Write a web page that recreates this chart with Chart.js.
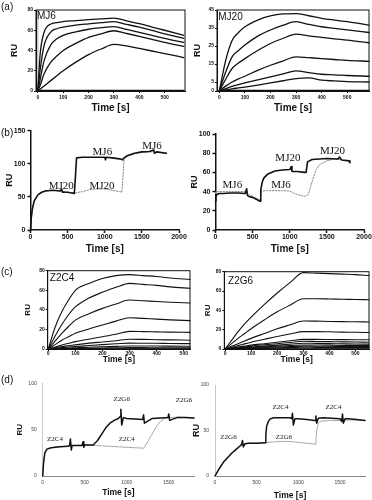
<!DOCTYPE html>
<html>
<head>
<meta charset="utf-8">
<script src="https://cdn.jsdelivr.net/npm/chart.js@4.4.1/dist/chart.umd.min.js"></script>
<style>
  html, body { margin: 0; padding: 0; background: #fff; }
  #fig { position: relative; width: 372px; height: 500px; overflow: hidden; font-family: Arial, "Liberation Sans", sans-serif; }
  #fig canvas { position: absolute; }
  .tag { position: absolute; left: 1px; font-size: 10px; line-height: 10px; color: #111; }
</style>
</head>
<body>
<div id="fig">
  <canvas id="a1"></canvas><canvas id="a2"></canvas>
  <canvas id="b1"></canvas><canvas id="b2"></canvas>
  <canvas id="c1"></canvas><canvas id="c2"></canvas>
  <canvas id="d1"></canvas><canvas id="d2"></canvas>
  <div class="tag" style="top:2px">(a)</div>
  <div class="tag" style="top:128px">(b)</div>
  <div class="tag" style="top:267px">(c)</div>
  <div class="tag" style="top:375px">(d)</div>
</div>
<script>
// ---- (a) MJ6 ----
const timeA1 = [0, 10, 25, 50, 75, 100, 150, 200, 250, 300, 350, 400, 450, 500, 575];
const mj6Curves = [
  [0, 38, 58, 66, 67.5, 68.5, 69.5, 70.5, 71.3, 72, 69.3, 66.5, 63.2, 60, 55],
  [0, 22, 45, 58, 61.5, 63, 65, 66.3, 67.5, 68.5, 65.8, 63, 59.8, 56.5, 52],
  [0, 12, 30, 45, 51.5, 55, 58.5, 61, 62.5, 63.5, 60.8, 58, 55, 52, 48],
  [0, 6, 17, 28, 34.5, 40, 47, 53, 56.5, 59.5, 56.8, 54, 51, 48, 44],
  [0, 2, 5, 10, 15, 20, 28.5, 36, 41.5, 46, 44.5, 42, 39.5, 37, 33],
  [0.5, 0.5, 0.5, 0.5, 0.5, 0.5, 0.5, 0.5, 0.5, 0.5, 0.5, 0.5, 0.5, 0.5, 0.5]
];
const markA1T = [0, 0];
const markA1V = [0, 80];

// ---- (a) MJ20 ----
const timeA2 = [0, 25, 50, 75, 100, 150, 200, 250, 300, 350, 400, 450, 500, 585];
const mj20Curves = [
  [0, 17, 28, 32.5, 35.7, 39.4, 41.7, 42.8, 43, 41.8, 40.4, 39.4, 38.5, 36.6],
  [0, 10.5, 19, 22.5, 25.5, 30.5, 33.9, 36.6, 38.5, 37, 35.7, 34.8, 33.9, 32.5],
  [0, 6.5, 12.5, 15.5, 18, 22.5, 26.4, 29.3, 31.6, 30.6, 29.8, 29, 28.3, 26.8],
  [0, 2.7, 5, 6.7, 8.2, 11.5, 14.3, 16.8, 19, 18.5, 18, 17.5, 17, 16.5],
  [0, 1.3, 2.6, 3.6, 4.5, 6.2, 7.8, 9.5, 11.2, 10.2, 9.3, 9, 8.6, 8.2],
  [0, 0.6, 1.2, 1.7, 2.2, 3.3, 4.5, 5.7, 6.9, 7.3, 6, 5.6, 5.2, 5],
  [0.3, 0.3, 0.3, 0.3, 0.3, 0.3, 0.3, 0.3, 0.3, 0.3, 0.3, 0.3, 0.3, 0.3]
];

// ---- (b) left: MJ20 then MJ6 ----
const bLeftBlackT = [0, 10, 25, 50, 100, 150, 200, 300, 400, 420, 430, 500, 590, 605, 620, 700, 800, 900, 1000, 1010, 1020, 1100, 1200, 1240, 1260, 1300, 1400, 1500, 1600, 1660, 1670, 1700, 1830];
const bLeftBlackV = [0, 18, 32, 44, 53, 57, 59, 60, 59, 62, 57, 57, 55, 80, 109, 110, 110, 110, 110, 106, 110, 109, 107.5, 106, 109, 112, 116, 118, 118.5, 121, 116, 118, 116];
const bLeftGrayT = [0, 10, 25, 50, 100, 150, 200, 300, 400, 500, 600, 700, 800, 900, 1000, 1100, 1200, 1230, 1245, 1260, 1300, 1400, 1500, 1600, 1700, 1830];
const bLeftGrayV = [0, 18, 32, 44, 53, 57, 59, 60, 59, 57, 56, 58, 61, 62, 62, 60, 58, 57, 80, 106, 111, 115, 117.5, 118, 118, 116];

// ---- (b) right: MJ6 then MJ20 ----
const bRightBlackT = [0, 5, 20, 50, 100, 200, 300, 400, 420, 430, 450, 500, 550, 600, 610, 630, 650, 700, 800, 900, 1000, 1020, 1030, 1100, 1200, 1220, 1240, 1300, 1400, 1500, 1650, 1670, 1700, 1800, 1810];
const bRightBlackV = [30, 35, 37, 38, 38, 38.5, 38.5, 38, 43, 36, 35, 34, 32, 30, 42, 50, 54, 58, 61.5, 62.5, 63, 66, 61, 61, 60, 60, 71, 73.5, 74, 74.5, 74, 76, 73, 72, 70];
const bRightGrayT = [0, 5, 20, 50, 100, 200, 300, 400, 420, 450, 500, 550, 600, 615, 630, 700, 800, 900, 1000, 1050, 1100, 1150, 1200, 1250, 1300, 1350, 1400, 1500, 1600, 1700];
const bRightGrayV = [38, 40, 40, 40, 40, 40, 40, 40, 40, 37, 35, 33, 31, 40, 40.5, 41, 41, 41, 40.5, 38.5, 37, 36, 35, 37, 50, 62, 68, 72, 74, 73];

// ---- (c) Z2C4 ----
const timeC1 = [0, 25, 50, 75, 100, 150, 200, 250, 300, 350, 400, 450, 523];
const z2c4Curves = [
  [0, 22, 38, 50, 60, 67, 72, 75, 76, 75, 74, 72.5, 71],
  [0, 13, 25, 35, 43, 52, 58, 63, 67, 66, 65, 63.5, 62],
  [0, 8, 16, 23, 29.5, 36, 41.5, 46, 50, 49.3, 48.5, 47.8, 47],
  [0, 4.5, 9, 12.5, 16, 20.5, 24.5, 28.5, 32, 31.3, 30.5, 29.8, 29],
  [0, 2, 4, 5.8, 7.5, 10, 12.6, 15, 18, 17.8, 17.5, 17.2, 17],
  [0, 1.2, 2.5, 3.4, 4.2, 6, 7.2, 8.5, 10, 9.8, 9.5, 9.3, 9],
  [0, 0.7, 1.5, 2, 2.5, 3.5, 4.5, 5.3, 6, 5.9, 5.8, 5.6, 5.5],
  [0, 0.4, 0.8, 1, 1.3, 1.8, 2.3, 2.7, 3, 3, 3, 2.9, 2.8],
  [0, 0.2, 0.3, 0.4, 0.5, 0.8, 1, 1.2, 1.4, 1.4, 1.3, 1.3, 1.2],
  [0.2, 0.2, 0.2, 0.2, 0.2, 0.2, 0.2, 0.2, 0.2, 0.2, 0.2, 0.2, 0.2]
];

// ---- (c) Z2G6 ----
const timeC2 = [0, 25, 50, 75, 100, 150, 200, 250, 300, 350, 400, 450, 500, 552];
const z2g6Curves = [
  [0, 9, 18, 26, 33, 46, 58, 69, 79, 78.5, 78, 77.5, 77, 76],
  [0, 5.5, 11, 16, 21, 30, 38.5, 45.5, 52, 52, 51.8, 51.5, 51.3, 51],
  [0, 2.8, 5.5, 8.3, 11, 16, 21, 25, 29, 28.8, 28.5, 28.3, 28.2, 28],
  [0, 1.8, 3.5, 5.3, 7, 10, 13, 15.5, 18, 18, 17.8, 17.5, 17.3, 17],
  [0, 1, 2, 3, 4, 5.5, 7, 8.5, 10, 10, 9.8, 9.7, 9.6, 9.5],
  [0, 0.8, 1.5, 2.2, 3, 4.3, 5.5, 6.8, 8, 7.8, 7.6, 7.4, 7.2, 7],
  [0, 0.5, 1, 1.5, 2, 3, 4, 5, 6, 5.8, 5.6, 5.4, 5.2, 5],
  [0, 0.4, 0.8, 1.1, 1.5, 2.2, 3, 3.6, 4.2, 4.1, 4, 3.8, 3.7, 3.5],
  [0, 0.3, 0.5, 0.8, 1, 1.5, 2, 2.5, 3, 2.9, 2.8, 2.7, 2.6, 2.5],
  [0, 0.2, 0.3, 0.5, 0.6, 0.9, 1.2, 1.5, 1.8, 1.7, 1.7, 1.6, 1.6, 1.5],
  [0.2, 0.2, 0.2, 0.2, 0.2, 0.2, 0.2, 0.2, 0.2, 0.2, 0.2, 0.2, 0.2, 0.2]
];

// ---- (d) left: Z2C4 then Z2G6 ----
const dLeftBlackT = [0, 10, 25, 50, 100, 200, 300, 320, 330, 340, 350, 400, 470, 480, 490, 500, 600, 650, 700, 750, 800, 850, 900, 920, 930, 940, 960, 1000, 1100, 1190, 1200, 1210, 1300, 1400, 1490, 1500, 1510, 1600, 1700, 1800];
const dLeftBlackV = [0, 14, 25, 29, 30.5, 31.5, 32, 33, 40, 28, 33, 33, 33, 37, 31, 33.5, 33.5, 38, 45, 52, 57, 60, 62, 64, 72, 55, 63, 62, 61.5, 61, 66, 57, 62, 62.5, 63, 67, 60, 63, 63, 62.5];
const dLeftGrayT = [0, 10, 25, 50, 100, 200, 300, 400, 500, 600, 700, 800, 900, 1000, 1100, 1200, 1250, 1300, 1350, 1400, 1450, 1500, 1600, 1700, 1800];
const dLeftGrayV = [0, 14, 25, 29, 30.5, 31.5, 32, 33, 33.5, 33, 32.5, 32, 31.5, 31, 30.5, 30, 37, 45, 53, 59, 62, 63, 63.5, 63, 62.5];

// ---- (d) right: Z2G6 then Z2C4 ----
const dRightBlackT = [0, 25, 50, 100, 150, 200, 250, 300, 320, 330, 340, 360, 400, 500, 600, 610, 620, 640, 660, 700, 800, 900, 920, 930, 940, 960, 1000, 1100, 1200, 1210, 1220, 1240, 1300, 1400, 1500, 1520, 1530, 1540, 1560, 1600, 1700, 1800];
const dRightBlackV = [0, 4, 8, 15, 20, 25, 29, 33, 35, 39, 32, 35.5, 36, 36, 36.5, 45, 55, 60, 62.5, 64, 64, 64, 63, 69, 56, 63, 63, 62, 61, 66, 58, 63.5, 64, 63.5, 63, 60, 68, 58, 63, 63, 62, 61];
const dRightGrayT = [0, 25, 50, 100, 150, 200, 250, 300, 400, 500, 600, 650, 700, 800, 900, 1000, 1100, 1200, 1210, 1220, 1240, 1260, 1300, 1400, 1500, 1600, 1700, 1800];
const dRightGrayV = [0, 4, 8, 15, 20, 25, 29, 33, 36, 36, 36.5, 37, 37.5, 38, 38, 37, 36, 35, 38, 50, 58, 60, 60.5, 61, 61, 61.5, 61.5, 61];

// tick values
const ticksKin = [0, 100, 200, 300, 400, 500];
const ticksRu80 = [0, 20, 40, 60, 80];
const ticksRu45 = [0, 5, 15, 25, 35, 45];
const ticksSeq = [0, 500, 1000, 1500, 2000];
const ticksRu150 = [0, 50, 100, 150];
const ticksRu100 = [0, 20, 40, 60, 80, 100];
const ticksSeqD = [0, 500, 1000, 1500];
const ticksRuD = [0, 50, 100];

const SANS = 'Arial, "Liberation Sans", sans-serif';
const SERIF = '"Liberation Serif", "Times New Roman", serif';

function pts(t, v) {
  return t.map((x, i) => ({ x: x, y: v[i] }));
}

function framePlugin(show) {
  return {
    id: 'frame',
    afterDraw(chart) {
      if (!show) return;
      const { ctx, chartArea: a } = chart;
      ctx.save();
      ctx.strokeStyle = '#111';
      ctx.lineWidth = 1;
      ctx.strokeRect(a.left, a.top, a.right - a.left, a.bottom - a.top);
      ctx.restore();
    }
  };
}

function notesPlugin(notes, font) {
  return {
    id: 'notes',
    afterDatasetsDraw(chart) {
      const { ctx, scales } = chart;
      ctx.save();
      ctx.font = font;
      ctx.fillStyle = '#111';
      ctx.textBaseline = 'middle';
      notes.forEach(n => {
        ctx.textAlign = n.align || 'center';
        ctx.fillText(n.text, scales.x.getPixelForValue(n.x), scales.y.getPixelForValue(n.y));
      });
      ctx.restore();
    }
  };
}

function panel(id, p) {
  const cv = document.getElementById(id);
  const b = p.box, a = p.plot;
  cv.width = b.w; cv.height = b.h;
  cv.style.left = b.x + 'px';
  cv.style.top = b.y + 'px';
  const yw = a.left - b.x;
  const xh = b.y + b.h - a.bottom;
  const ruPad = p.ruX - b.x - p.ruSize / 2;
  const timePad = b.y + b.h - p.timeY - p.timeSize / 2;
  const st = p.axis;

  const fixPad = s => { s.paddingLeft = 0; s.paddingRight = 0; s.paddingTop = 0; s.paddingBottom = 0; };
  const plain = v => String(v);

  return new Chart(cv, {
    type: 'line',
    data: { datasets: p.datasets },
    options: {
      responsive: false,
      animation: false,
      events: [],
      layout: { padding: { left: 0, top: a.top - b.y, right: b.x + b.w - a.right, bottom: 0 } },
      plugins: { legend: { display: false }, tooltip: { enabled: false } },
      elements: { point: { radius: 0 }, line: { borderCapStyle: 'round', borderJoinStyle: 'round' } },
      scales: {
        x: {
          type: 'linear', min: p.x[0], max: p.x[1],
          afterBuildTicks: s => { s.ticks = p.xTicks.map(v => ({ value: v })); },
          afterFit: s => { s.height = xh; fixPad(s); },
          border: { display: true, color: st.xColor, width: st.width },
          grid: { drawOnChartArea: false, drawTicks: st.ticks, tickLength: st.tickLen, tickColor: st.xColor, tickWidth: st.width },
          ticks: { autoSkip: false, maxRotation: 0, padding: st.xPad, color: st.labelColor, callback: plain,
                   font: { family: SANS, size: st.size, weight: st.weight } },
          title: { display: true, text: 'Time [s]', color: '#111', padding: { top: 0, bottom: timePad },
                   font: { family: SANS, size: p.timeSize, weight: 'bold', lineHeight: 1 } }
        },
        y: {
          type: 'linear', min: p.y[0], max: p.y[1],
          afterBuildTicks: s => { s.ticks = p.yTicks.map(v => ({ value: v })); },
          afterFit: s => { s.width = yw; fixPad(s); },
          border: { display: true, color: st.yColor, width: st.width },
          grid: { drawOnChartArea: false, drawTicks: st.ticks, tickLength: st.tickLen, tickColor: st.yColor, tickWidth: st.width },
          ticks: { autoSkip: false, padding: st.yPad, color: st.labelColor, callback: plain,
                   font: { family: SANS, size: st.size, weight: st.weight } },
          title: { display: true, text: 'RU', color: '#111', padding: { top: ruPad, bottom: 0 },
                   font: { family: SANS, size: p.ruSize, weight: 'bold', lineHeight: 1 } }
        }
      }
    },
    plugins: [framePlugin(p.frame), notesPlugin(p.notes || [], p.noteFont)]
  });
}

function curveSets(t, curves, width) {
  return curves.map(v => ({
    data: pts(t, v), borderColor: '#111', borderWidth: width,
    cubicInterpolationMode: 'monotone', clip: false
  }));
}

const boxStyle = { xColor: '#111', yColor: '#111', width: 1, ticks: true, tickLen: 2, xPad: 2, yPad: 1, size: 5, weight: 'bold', labelColor: '#111' };
const prismStyle = { xColor: '#111', yColor: '#111', width: 1.5, ticks: true, tickLen: 3, xPad: 0, yPad: 2, size: 7, weight: 'bold', labelColor: '#111' };
const excelStyle = { xColor: '#888', yColor: '#c8c8c8', width: 1, ticks: false, tickLen: 0, xPad: 4, yPad: 6, size: 5, weight: 'normal', labelColor: '#444' };

// (a)
panel('a1', {
  box: { x: 0, y: 0, w: 190, h: 117 }, plot: { left: 36, top: 10, right: 185, bottom: 91 },
  ruX: 15, ruSize: 9, timeY: 108, timeSize: 10,
  x: [-7, 580], y: [0, 80], xTicks: ticksKin, yTicks: ticksRu80, axis: boxStyle, frame: true,
  notes: [{ text: 'MJ6', x: -3, y: 73.5, align: 'left' }], noteFont: '10px ' + SANS,
  datasets: curveSets(timeA1, mj6Curves, 1.3).concat([
    { data: pts(markA1T, markA1V), borderColor: '#c8c8c8', borderWidth: 1.5, clip: false }
  ])
});
panel('a2', {
  box: { x: 190, y: 0, w: 182, h: 117 }, plot: { left: 217, top: 10, right: 369, bottom: 91 },
  ruX: 198, ruSize: 9, timeY: 108, timeSize: 10,
  x: [-9, 585], y: [0, 45], xTicks: ticksKin, yTicks: ticksRu45, axis: boxStyle, frame: true,
  notes: [{ text: 'MJ20', x: -4, y: 40.8, align: 'left' }], noteFont: '10px ' + SANS,
  datasets: curveSets(timeA2, mj20Curves, 1.3)
});

// (b)
panel('b1', {
  box: { x: 0, y: 120, w: 190, h: 138 }, plot: { left: 30.5, top: 130.7, right: 179, bottom: 230 },
  ruX: 10, ruSize: 9, timeY: 249, timeSize: 10,
  x: [0, 2000], y: [0, 150], xTicks: ticksSeq, yTicks: ticksRu150, axis: prismStyle, frame: false,
  notes: [
    { text: 'MJ20', x: 415, y: 65.7 }, { text: 'MJ6', x: 968, y: 117 },
    { text: 'MJ20', x: 962, y: 65.7 }, { text: 'MJ6', x: 1636, y: 127 }
  ], noteFont: '11px ' + SERIF,
  datasets: [
    { data: pts(bLeftBlackT, bLeftBlackV), borderColor: '#111', borderWidth: 1.6, clip: false },
    { data: pts(bLeftGrayT, bLeftGrayV), borderColor: '#8a8a8a', borderWidth: 1, borderDash: [1.5, 1.5], clip: false }
  ]
});
panel('b2', {
  box: { x: 185, y: 120, w: 187, h: 138 }, plot: { left: 215.5, top: 134, right: 364, bottom: 230 },
  ruX: 194.3, ruSize: 9, timeY: 249, timeSize: 10,
  x: [0, 2000], y: [0, 100], xTicks: ticksSeq, yTicks: ticksRu100, axis: prismStyle, frame: false,
  notes: [
    { text: 'MJ6', x: 227, y: 46.4 }, { text: 'MJ6', x: 881, y: 46.4 },
    { text: 'MJ20', x: 975, y: 74.5 }, { text: 'MJ20', x: 1575, y: 81.8 }
  ], noteFont: '11px ' + SERIF,
  datasets: [
    { data: pts(bRightBlackT, bRightBlackV), borderColor: '#111', borderWidth: 1.6, clip: false },
    { data: pts(bRightGrayT, bRightGrayV), borderColor: '#8a8a8a', borderWidth: 1, borderDash: [1.5, 1.5], clip: false }
  ]
});

// (c)
panel('c1', {
  box: { x: 10, y: 258, w: 182, h: 110 }, plot: { left: 47.7, top: 270.7, right: 190, bottom: 349 },
  ruX: 27.7, ruSize: 8, timeY: 360, timeSize: 8.5,
  x: [-2, 523], y: [0, 80], xTicks: ticksKin, yTicks: ticksRu80, axis: Object.assign({}, boxStyle, { xPad: 0 }), frame: true,
  notes: [{ text: 'Z2C4', x: 6, y: 72, align: 'left' }], noteFont: '10px ' + SANS,
  datasets: curveSets(timeC1, z2c4Curves, 1.1)
});
panel('c2', {
  box: { x: 195, y: 258, w: 177, h: 110 }, plot: { left: 224.3, top: 271.7, right: 369, bottom: 349 },
  ruX: 207.7, ruSize: 8, timeY: 360, timeSize: 8.5,
  x: [-3, 552], y: [0, 80], xTicks: ticksKin, yTicks: ticksRu80, axis: Object.assign({}, boxStyle, { xPad: 0 }), frame: true,
  notes: [{ text: 'Z2G6', x: 11.5, y: 70, align: 'left' }], noteFont: '10px ' + SANS,
  datasets: curveSets(timeC2, z2g6Curves, 1.1)
});

// (d)
panel('d1', {
  box: { x: 5, y: 372, w: 192, h: 128 }, plot: { left: 42.7, top: 383.3, right: 194, bottom: 476 },
  ruX: 20, ruSize: 8, timeY: 493, timeSize: 8.5,
  x: [0, 1800], y: [0, 100], xTicks: ticksSeqD, yTicks: ticksRuD, axis: excelStyle, frame: false,
  notes: [
    { text: 'Z2C4', x: 147, y: 39.4 }, { text: 'Z2G6', x: 940, y: 82.5 },
    { text: 'Z2C4', x: 1000, y: 39.4 }, { text: 'Z2G6', x: 1680, y: 82 }
  ], noteFont: '7px ' + SERIF,
  datasets: [
    { data: pts(dLeftBlackT, dLeftBlackV), borderColor: '#111', borderWidth: 1.5, clip: false },
    { data: pts(dLeftGrayT, dLeftGrayV), borderColor: '#a8a8a8', borderWidth: 1, clip: false }
  ]
});
panel('d2', {
  box: { x: 188, y: 372, w: 184, h: 128 }, plot: { left: 215, top: 385, right: 365, bottom: 476 },
  ruX: 197, ruSize: 9, timeY: 495.5, timeSize: 8.5,
  x: [0, 1800], y: [0, 100], xTicks: ticksSeqD, yTicks: ticksRuD, axis: excelStyle, frame: false,
  notes: [
    { text: 'Z2G6', x: 162, y: 42.3 }, { text: 'Z2C4', x: 785, y: 75.3 },
    { text: 'Z2G6', x: 827, y: 42.3 }, { text: 'Z2C4', x: 1421, y: 75.3 }
  ], noteFont: '7px ' + SERIF,
  datasets: [
    { data: pts(dRightBlackT, dRightBlackV), borderColor: '#111', borderWidth: 1.5, clip: false },
    { data: pts(dRightGrayT, dRightGrayV), borderColor: '#a8a8a8', borderWidth: 1, clip: false }
  ]
});
</script>
</body>
</html>
